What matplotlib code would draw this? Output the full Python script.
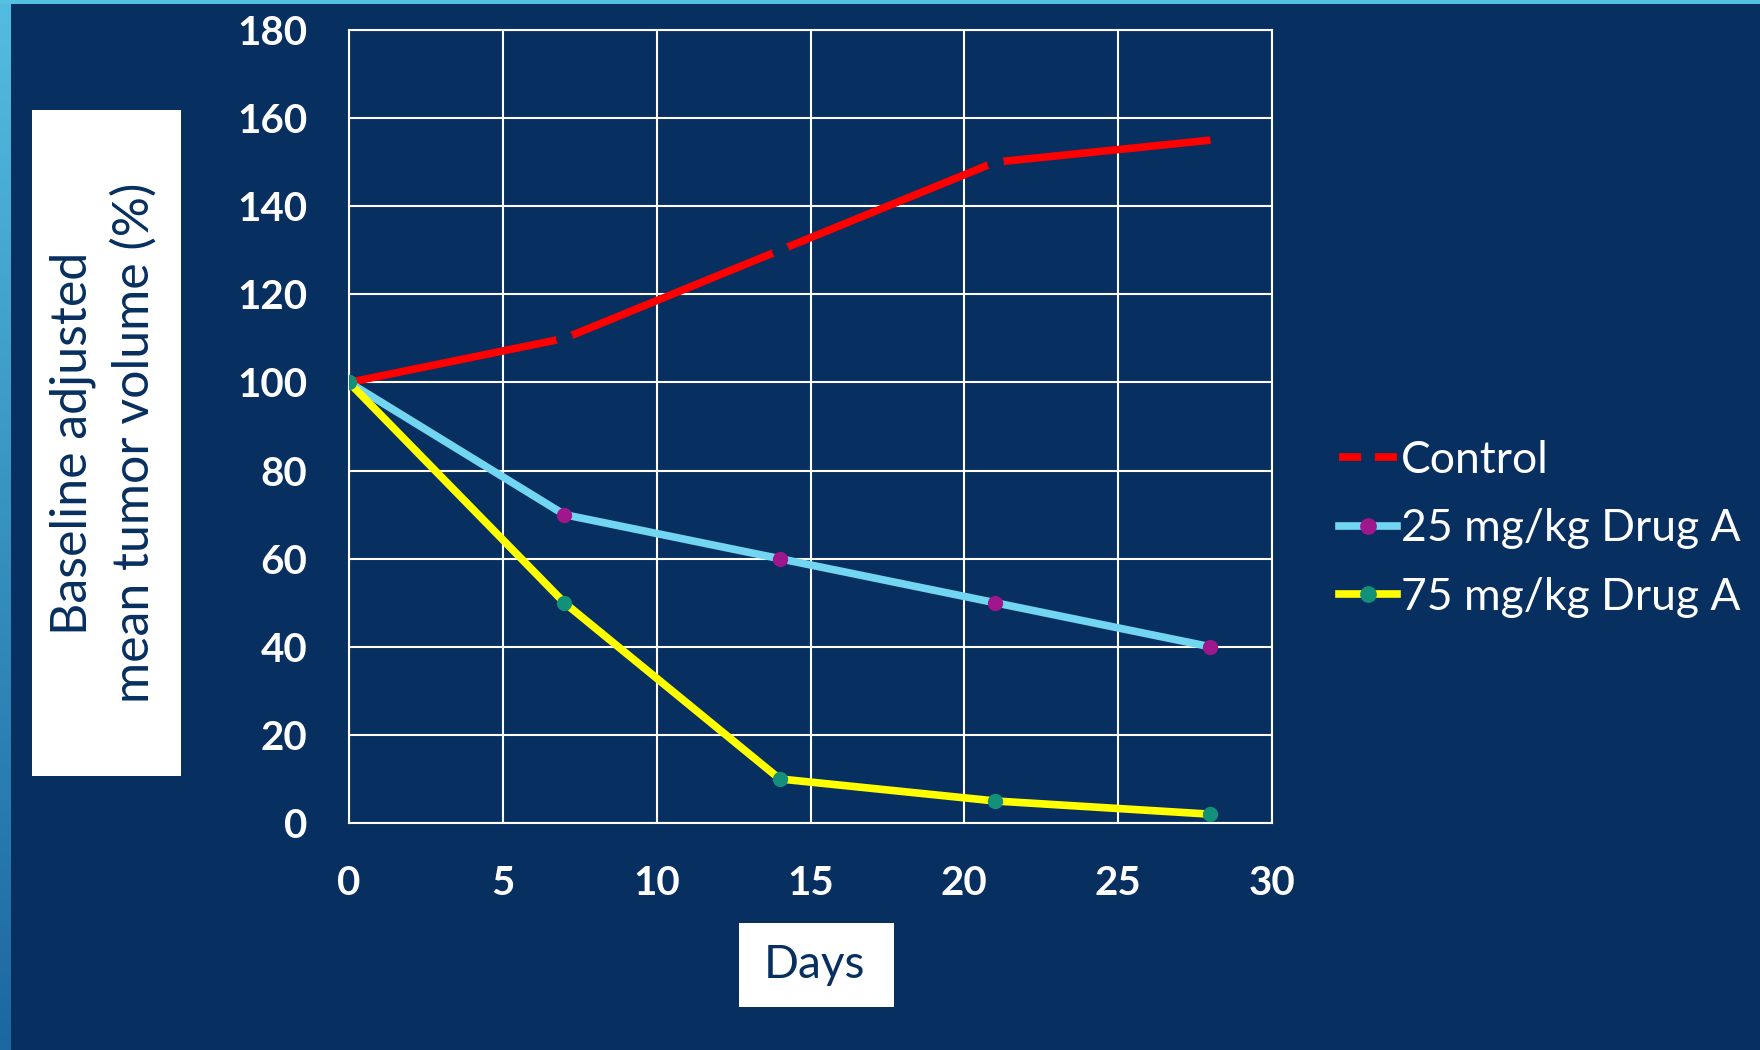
import matplotlib.pyplot as plt
import numpy as np
from matplotlib.lines import Line2D
from matplotlib.patches import Rectangle

days = [0, 7, 14, 21, 28]
control = [100, 110, 130, 150, 155]
drug_a_25 = [100, 70, 60, 50, 40]
drug_a_75 = [100, 50, 10, 5, 2]
labels = ['Control', '25 mg/kg Drug A', '75 mg/kg Drug A']

navy = '#072f5f'
font = 'Lato'

fig = plt.figure(figsize=(17.6, 10.5), dpi=100, facecolor=navy)

# slide border: thin cyan strip on top, gradient strip down the left side
fig.patches.append(Rectangle((0, 1 - 4 / 1050), 1, 4 / 1050, transform=fig.transFigure,
                             facecolor='#55c0e0', edgecolor='none'))
side = fig.add_axes([0, 0, 10 / 1760, 1 - 4 / 1050])
side.imshow(np.linspace(0, 1, 256).reshape(-1, 1), aspect='auto',
            cmap=plt.matplotlib.colors.LinearSegmentedColormap.from_list('side', ['#52bce0', '#1b68a0']))
side.axis('off')

ax = fig.add_axes([349 / 1760, 1 - 823 / 1050, 923 / 1760, 793 / 1050])
ax.set_facecolor(navy)

# control line with small breaks at the inner time points
ax.plot(days, control, color='#ff0000', lw=5.5, solid_capstyle='butt', zorder=3,
        marker='o', markevery=[1, 2, 3], markersize=11, markerfacecolor=navy, markeredgecolor=navy)
ax.plot(days, drug_a_25, color='#72d6f2', lw=5.5, marker='o', markersize=10,
        markerfacecolor='#a0168c', markeredgecolor='#a0168c', zorder=4)
ax.plot(days, drug_a_75, color='#ffff00', lw=5.5, marker='o', markersize=10,
        markerfacecolor='#13907a', markeredgecolor='#13907a', zorder=5)

ax.set_xlim(0, 30)
ax.set_ylim(0, 180)
ax.set_xticks(range(0, 31, 5))
ax.set_yticks(range(0, 181, 20))
ax.grid(color='white', lw=1.5)
ax.set_axisbelow(True)
for s in ax.spines.values():
    s.set_color('white')
    s.set_linewidth(1.5)
ax.tick_params(length=0, colors='white', labelsize=29)
ax.tick_params(axis='x', pad=30)
ax.tick_params(axis='y', pad=30)
for t in ax.get_xticklabels() + ax.get_yticklabels():
    t.set_fontfamily(font)
    t.set_fontweight('bold')

# y axis title in a white box
fig.patches.append(Rectangle((32 / 1760, 1 - 776 / 1050), 149 / 1760, 666 / 1050,
                             transform=fig.transFigure, facecolor='white', edgecolor='none'))
fig.text(104 / 1760, 1 - 443 / 1050, 'Baseline adjusted\nmean tumor volume (%)', rotation=90,
         ha='center', va='center', multialignment='center', linespacing=1.4,
         fontsize=36, family=font, color=navy)

# x axis title in a white box
fig.patches.append(Rectangle((739 / 1760, 1 - 1007 / 1050), 155 / 1760, 84 / 1050,
                             transform=fig.transFigure, facecolor='white', edgecolor='none'))
fig.text(814 / 1760, 1 - 965 / 1050, 'Days', ha='center', va='center',
         fontsize=33, family=font, color=navy)

handles = [
    Line2D([], [], color='#ff0000', lw=5.5, linestyle=(0, (2.9, 1.8))),
    Line2D([], [], color='#72d6f2', lw=5.5, marker='o', markersize=11,
           markerfacecolor='#a0168c', markeredgecolor='#a0168c'),
    Line2D([], [], color='#ffff00', lw=5.5, marker='o', markersize=11,
           markerfacecolor='#13907a', markeredgecolor='#13907a'),
]
leg = fig.legend(handles, labels, loc='center left', bbox_to_anchor=(1339 / 1760, 1 - 529 / 1050),
                 frameon=False, borderpad=0, borderaxespad=0, handlelength=1.3,
                 handletextpad=0.1, labelspacing=0.62, prop={'family': font, 'size': 32})
for t in leg.get_texts():
    t.set_color('white')

fig.savefig('out.png', facecolor=navy)
